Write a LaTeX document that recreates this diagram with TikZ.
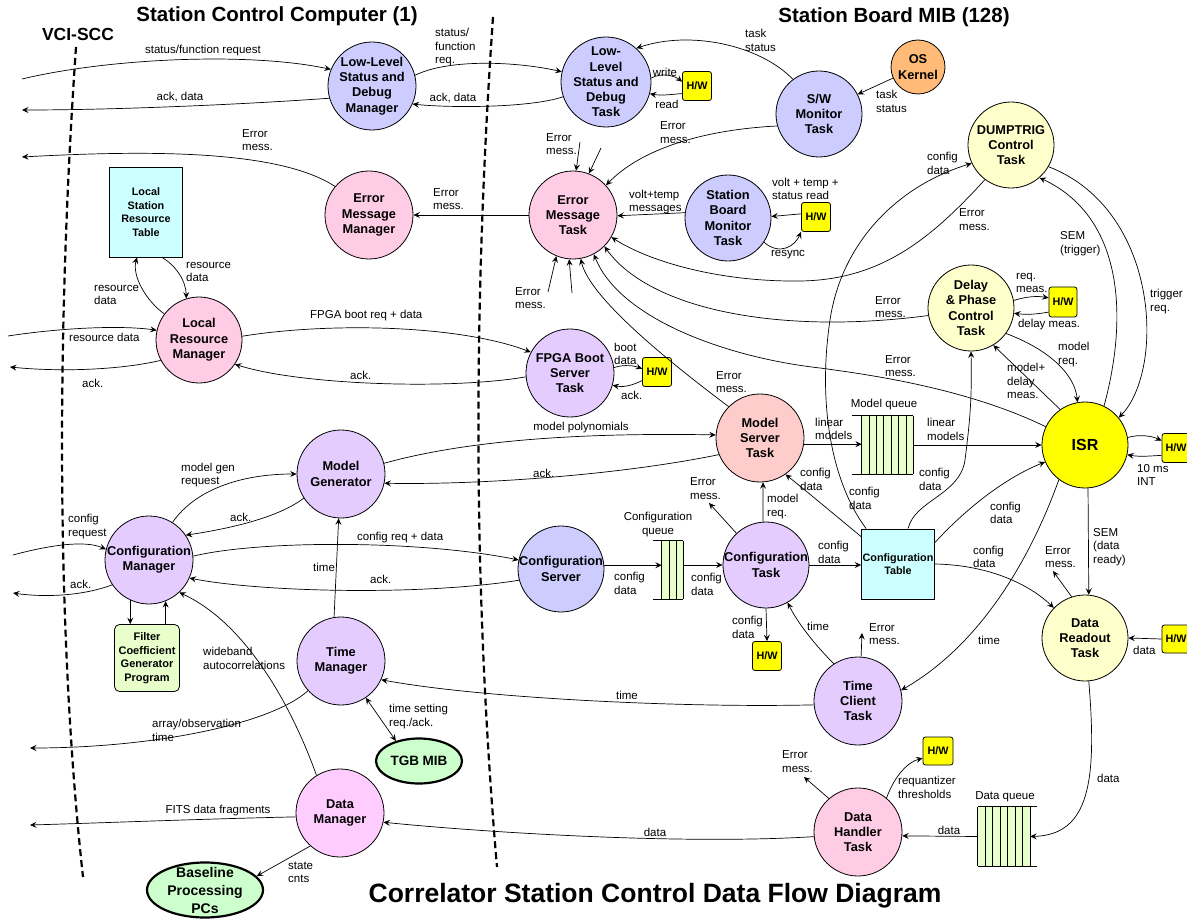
\documentclass[tikz,border=0pt]{standalone}
\usepackage{fontspec}
\setmainfont{Liberation Sans}
\usetikzlibrary{arrows.meta,calc,shapes.geometric}
\definecolor{cblue}{HTML}{CCCCFF}
\definecolor{cpurp}{HTML}{E5CCFF}
\definecolor{cpink}{HTML}{FFCCE5}
\definecolor{csalm}{HTML}{FFCCCC}
\definecolor{cmag}{HTML}{FFCCFF}
\definecolor{cylw}{HTML}{FFFFCC}
\definecolor{cisr}{HTML}{FFFF00}
\definecolor{corg}{HTML}{FFBB77}
\definecolor{ccyan}{HTML}{CCFFFF}
\definecolor{cgrn}{HTML}{E8FFCC}
\definecolor{cell}{HTML}{CCFFCC}
\newcommand\lblfont{\fontsize{11.5}{13.5}\selectfont}
\newcommand\ndfont{\bfseries\fontsize{12.8}{15.3}\selectfont}
\tikzset{
  proc/.style={circle, draw, line width=0.8pt, inner sep=-8pt, align=center, font=\ndfont},
  hwbox/.style={draw, fill=cisr, rounded corners=2.5pt, line width=0.8pt, minimum width=29pt, minimum height=29pt, inner sep=0pt, font=\bfseries\fontsize{10.8}{12}\selectfont},
  tbl/.style={draw, fill=ccyan, line width=0.8pt, inner sep=0pt, align=center, font=\bfseries\fontsize{10.8}{13.7}\selectfont},
  extn/.style={ellipse, draw, line width=2.2pt, fill=cell, inner sep=0pt, align=center},
  lbl/.style={font=\lblfont, align=left, inner sep=0pt, anchor=west},
  clbl/.style={font=\lblfont, align=center, inner sep=0pt},
  arr/.style={line width=0.7pt, -{Stealth[length=6.5pt,width=6pt,inset=2.5pt]}},
  darr/.style={line width=0.7pt, {Stealth[length=6.5pt,width=6pt,inset=2.5pt]}-{Stealth[length=6.5pt,width=6pt,inset=2.5pt]}},
  bnd/.style={line width=2.2pt, dash pattern=on 7pt off 4pt},
  qfill/.style={fill=cgrn, inner sep=0pt},
  qline/.style={line width=0.7pt}
}
\begin{document}
\begin{tikzpicture}[x=1pt,y=-1pt]
\useasboundingbox (0,0) rectangle (1187,920);
\fill[white] (0,0) rectangle (1187,920);

% headings
\node[font=\bfseries\fontsize{20.5}{24}\selectfont] (h1) at (277,16) {Station Control Computer (1)};
\node[font=\bfseries\fontsize{20.5}{24}\selectfont] (h2) at (894,17) {Station Board MIB (128)};
\node[font=\bfseries\fontsize{17.5}{20}\selectfont] (h3) at (78,34) {VCI-SCC};
\node[font=\bfseries\fontsize{26.5}{30}\selectfont] (title) at (655,896) {Correlator Station Control Data Flow Diagram};

% boundaries
\draw[bnd] (76,47) .. controls (55,350) and (58,650) .. (83,877);
\draw[bnd] (493,17) .. controls (472,320) and (474,600) .. (497,867);

% process nodes
\node[proc, fill=cblue, minimum size=88pt] (llsdm) at (372,86) {Low-Level\\Status and\\Debug\\Manager};
\node[proc, fill=cblue, minimum size=90pt] (llsdt) at (606,82) {Low-\\Level\\Status and\\Debug\\Task};
\node[hwbox] (hw1) at (697,86) {H/W};
\node[proc, fill=cblue, minimum size=86pt] (swm) at (819,114) {S/W\\Monitor\\Task};
\node[proc, fill=corg, minimum size=54pt] (os) at (918,67) {OS\\Kernel};
\node[proc, fill=cylw, minimum size=86pt] (dump) at (1011,145) {DUMPTRIG\\Control\\Task};
\node[proc, fill=cpink, minimum size=88pt] (emt) at (573,215) {Error\\Message\\Task};
\node[proc, fill=cpink, minimum size=88pt] (emm) at (369,215) {Error\\Message\\Manager};
\node[proc, fill=cblue, minimum size=86pt] (sbm) at (728,218) {Station\\Board\\Monitor\\Task};
\node[hwbox] (hw2) at (816,217) {H/W};
\node[tbl, minimum width=73pt, minimum height=90pt] (lsrt) at (146,212) {Local\\Station\\Resource\\Table};
\node[proc, fill=cpink, minimum size=86pt] (lrm) at (199,340) {Local\\Resource\\Manager};
\node[proc, fill=cpurp, minimum size=88pt] (fpga) at (570,373) {FPGA Boot\\Server\\Task};
\node[hwbox] (hw3) at (657,372) {H/W};
\node[proc, fill=cylw, minimum size=86pt] (delay) at (971,308) {Delay\\\& Phase\\Control\\Task};
\node[hwbox, minimum width=28pt, minimum height=30pt] (hw4) at (1063,302) {H/W};
\node[proc, fill=cisr, minimum size=86pt, font=\bfseries\fontsize{16}{18}\selectfont] (isr) at (1085,445) {ISR};
\node[hwbox, minimum width=28pt] (hw5) at (1176,448) {H/W};
\node[proc, fill=csalm, minimum size=88pt] (mst) at (760,438) {Model\\Server\\Task};
\node[proc, fill=cblue, minimum size=86pt] (cs) at (561,569) {Configuration\\Server};
\node[proc, fill=cpurp, minimum size=86pt] (ct) at (766,565) {Configuration\\Task};
\node[hwbox] (hw6) at (767,656) {H/W};
\node[tbl, minimum width=73pt, minimum height=70pt] (ctab) at (898,564) {Configuration\\Table};
\node[proc, fill=cylw, minimum size=86pt] (drt) at (1085,638) {Data\\Readout\\Task};
\node[hwbox, minimum width=28pt, minimum height=28pt] (hw7) at (1176,639) {H/W};
\node[proc, fill=cpurp, minimum size=88pt] (tct) at (858,701) {Time\\Client\\Task};
\node[hwbox, minimum width=30pt, minimum height=28pt] (hw8) at (938,751) {H/W};
\node[proc, fill=cpink, minimum size=88pt] (dht) at (858,832) {Data\\Handler\\Task};
\node[proc, fill=cpurp, minimum size=88pt] (mg) at (341,474) {Model\\Generator};
\node[proc, fill=cpurp, minimum size=88pt] (cm) at (149,560) {Configuration\\Manager};
\node[draw, fill=cgrn, rounded corners=5pt, line width=0.8pt, minimum width=65pt, minimum height=67pt, inner sep=0pt, align=center, font=\bfseries\fontsize{11}{13.5}\selectfont] (fcg) at (147,658) {Filter\\Coefficient\\Generator\\Program};
\node[proc, fill=cpurp, minimum size=88pt] (tm) at (341,661) {Time\\Manager};
\node[extn, minimum width=86pt, minimum height=45pt, font=\bfseries\fontsize{13.5}{16}\selectfont] (tgb) at (419,761) {TGB MIB};
\node[proc, fill=cmag, minimum size=88pt] (dm) at (340,813) {Data\\Manager};
\node[extn, minimum width=116pt, minimum height=55pt] (bpp) at (205,890) {};
\node[align=center, inner sep=0pt, font=\bfseries\fontsize{14}{18}\selectfont] (bppt) at (bpp) {Baseline\\Processing\\PCs};

% queues
\node[qfill, minimum width=51pt, minimum height=58pt] (mq) at (887.5,445) {};
\foreach \i in {0,...,7} \draw[qline] ($(mq.north west)!\i/7!(mq.north east)$) -- ($(mq.south west)!\i/7!(mq.south east)$);
\draw[qline] ([xshift=-10pt]mq.north west) -- (mq.north east);
\draw[qline] ([xshift=-10pt]mq.south west) -- (mq.south east);
\node[qfill, minimum width=21pt, minimum height=58pt] (cq) at (672.5,570) {};
\foreach \i in {0,...,3} \draw[qline] ($(cq.north west)!\i/3!(cq.north east)$) -- ($(cq.south west)!\i/3!(cq.south east)$);
\draw[qline] ([xshift=-9pt]cq.north west) -- (cq.north east);
\draw[qline] ([xshift=-9pt]cq.south west) -- (cq.south east);
\node[qfill, minimum width=52pt, minimum height=59pt] (dq) at (1004,836.5) {};
\foreach \i in {0,...,7} \draw[qline] ($(dq.north west)!\i/7!(dq.north east)$) -- ($(dq.south west)!\i/7!(dq.south east)$);
\draw[qline] (dq.north west) -- ([xshift=7pt]dq.north east);
\draw[qline] (dq.south west) -- ([xshift=7pt]dq.south east);

% free ends
\coordinate (x1) at (22,79);
\coordinate (x2) at (22,110);
\coordinate (x3) at (22,157);
\coordinate (x4) at (8,336);
\coordinate (x5) at (10,367);
\coordinate (x6) at (13,555);
\coordinate (x7) at (13,593);
\coordinate (x8) at (30,748);
\coordinate (x9) at (30,825);
\coordinate (e1) at (580,142);
\coordinate (e2) at (601,148);
\coordinate (e3) at (548,292);
\coordinate (e4) at (572,293);
\coordinate (e5) at (709,503);
\coordinate (e6) at (862,633);
\coordinate (e7) at (1053,571);
\coordinate (e8) at (804,777);

% connectors - top
\draw[arr] (x1) .. controls (110,58) and (250,52) .. (llsdm.158);
\draw[arr] (llsdm.196) .. controls (250,104) and (120,110) .. (x2);
\draw[arr] (emm.140) .. controls (280,150) and (150,150) .. (x3);
\draw[arr] (llsdm.14) .. controls (450,58) and (520,62) .. (llsdt.167);
\draw[arr] (llsdt.199) .. controls (530,108) and (450,108) .. (llsdm.336);
\draw[arr] (llsdt.5) .. controls (662,72) and (675,76) .. (hw1.164);
\draw[arr] (hw1.207) .. controls (675,94) and (662,96) .. (llsdt.345);
\draw[arr] (swm.127) .. controls (760,45) and (690,30) .. (llsdt.48);
\draw[arr] (os.204) -- (swm.27);
\draw[arr] (swm.196) .. controls (700,130) and (640,150) .. (emt.42);
\draw[arr] (e1) -- (emt.86);
\draw[arr] (e2) -- (emt.69);
\draw[arr] (emt.west) -- (emm.east);
\draw[arr] (sbm.173) -- (emt.359);
\draw[arr] (hw2.168) -- (sbm.2);
\draw[arr] (sbm.326) .. controls (780,256) and (795,246) .. (hw2.225);
\draw[arr] (e3) -- (emt.248);
\draw[arr] (e4) -- (emt.265);
\draw[arr] (mst.135) .. controls (680,370) and (590,300) .. (emt.280);
\draw[arr] (isr.155) .. controls (970,390) and (880,376) .. (820,368) .. controls (730,358) and (620,320) .. (emt.298);
\draw[arr] (delay.190) .. controls (780,335) and (650,310) .. (emt.315);
\draw[arr] (dump.233) .. controls (930,240) and (880,280) .. (800,281) .. controls (720,282) and (650,262) .. (emt.330);

% local resource
\draw[arr] (lrm.143) .. controls (145,300) and (132,275) .. ([xshift=-9pt]lsrt.south);
\draw[arr] ([xshift=16pt]lsrt.south) .. controls (175,265) and (186,280) .. (lrm.107);
\draw[arr] (x4) .. controls (60,328) and (120,325) .. (lrm.167);
\draw[arr] (lrm.208) .. controls (120,370) and (60,372) .. (x5);
\draw[arr] (lrm.5) .. controls (330,322) and (460,325) .. (fpga.152);
\draw[arr] (fpga.185) .. controls (450,390) and (300,385) .. (lrm.326);
\draw[arr] (fpga.7) .. controls (625,364) and (635,366) .. (hw3.168);
\draw[arr] (hw3.210) .. controls (635,384) and (625,388) .. (fpga.344);

% model generator / server
\draw[arr] (mg.14) .. controls (450,445) and (550,432) .. (mst.176);
\draw[arr] (mst.202) .. controls (620,475) and (480,485) .. (mg.348);
\draw[arr] (cm.58) .. controls (195,490) and (240,474) .. (mg.west);
\draw[arr] (mg.213) .. controls (275,520) and (220,530) .. (cm.34);
\draw[arr] (cm.5) .. controls (260,540) and (420,540) .. (cs.168);
\draw[arr] (cs.195) .. controls (420,596) and (260,592) .. (cm.336);

% configuration chain
\draw[arr] (cs.5) -- (cs.5 -| cq.west);
\draw[arr] (cq.east |- ct.west) -- (ct.west);
\draw[arr] (ct.east) -- (ct.east -| ctab.west);
\draw[arr] (ct.94) -- (mst.274);
\draw[arr] (ct.133) -- (e5);
\draw[arr] (ct.south) -- (hw6.north);
\draw[arr] (tct.123) .. controls (815,645) and (797,622) .. (ct.300);
\draw[arr] (tct.86) -- (e6);
\draw[arr] (isr.233) .. controls (1030,560) and (980,645) .. (tct.14);
\draw[arr] (isr.274) -- (drt.85);
\draw[arr] (drt.108) -- (e7);
\draw[arr] (hw7.west) -- (drt.east);
\draw[arr] (drt.275) .. controls (1097,780) and (1090,835) .. (dq.east);
\draw[arr] (dq.west) -- (dht.355);
\draw[arr] (dht.50) .. controls (895,775) and (908,762) .. (hw8.205);
\draw[arr] (dht.131) -- (e8);
\draw[arr] (dht.186) .. controls (680,845) and (480,832) .. (dm.348);
\draw[arr] (tct.185) .. controls (680,708) and (480,698) .. (tm.335);
\draw[darr] (tm.304) -- (tgb.139);
\draw[arr] (tm.99) -- (mg.267);
\draw[arr] (tm.222) .. controls (270,725) and (150,748) .. (x8);
\draw[arr] (dm.122) .. controls (295,715) and (250,625) .. (cm.313);
\draw[arr] (dm.185) .. controls (200,819) and (100,823) .. (x9);
\draw[arr] (dm.228) -- (bpp.15);
\draw[arr] (cm.245) -- (cm.245 |- fcg.north);
\draw[arr] (fcg.north -| cm.292) -- (cm.292);
\draw[arr] (x6) .. controls (50,545) and (85,540) .. (cm.166);
\draw[arr] (cm.214) .. controls (80,597) and (40,597) .. (x7);

% model queue / ISR / config table
\draw[arr] (mst.352) -- (mst.352 -| mq.west);
\draw[arr] (mq.east) -- (isr.west);
\draw[arr] ([yshift=-8pt]ctab.north west) .. controls (835,515) and (805,490) .. (mst.305);
\draw[arr] ([xshift=5pt]ctab.north west) .. controls (830,480) and (818,400) .. (830,320) .. controls (842,240) and (900,185) .. (dump.205);
\draw[arr] ([xshift=10pt]ctab.north) .. controls (915,500) and (960,495) .. (965,460) .. controls (970,420) and (972,400) .. (delay.south);
\draw[arr] ([yshift=-14pt]ctab.north east) .. controls (960,515) and (1000,480) .. (isr.203);
\draw[arr] (ctab.east) .. controls (990,565) and (1030,585) .. (drt.136);
\draw[arr] (delay.10) .. controls (1028,296) and (1038,296) .. (hw4.164);
\draw[arr] (hw4.215) .. controls (1038,314) and (1028,315) .. (delay.353);
\draw[arr] (delay.324) .. controls (1050,350) and (1075,375) .. (isr.100);
\draw[arr] (isr.125) -- (delay.301);
\draw[arr] (dump.330) .. controls (1160,210) and (1165,370) .. (isr.39);
\draw[arr] (isr.64) .. controls (1130,310) and (1120,215) .. (dump.311);
\draw[arr] (isr.10) .. controls (1140,434) and (1152,436) .. (hw5.153);
\draw[arr] (hw5.207) .. controls (1150,456) and (1140,457) .. (isr.347);

% labels
\node[clbl] (l1) at (203,51) {status/function request};
\node[clbl] (l2) at (180,97) {ack, data};
\node[lbl] (l3) at (242,140) {Error\\mess.};
\node[lbl] (l4) at (435,47.5) {status/\\function\\req.};
\node[clbl] (l5) at (453,98) {ack, data};
\node[clbl] (l6) at (665,72) {write};
\node[clbl] (l7) at (667,104) {read};
\node[lbl] (l8) at (745,40.5) {task\\status};
\node[lbl] (l9) at (876,101.5) {task\\status};
\node[lbl] (l10) at (660,132.5) {Error\\mess.};
\node[lbl] (l11) at (546,144) {Error\\mess.};
\node[lbl] (l12) at (433,199) {Error\\mess.};
\node[lbl] (l13) at (629,202) {volt+temp\\messages};
\node[lbl] (l14) at (772,189) {volt + temp +\\status read};
\node[clbl] (l15) at (788,255) {resync};
\node[lbl] (l16) at (515,298) {Error\\mess.};
\node[lbl] (l17) at (716,382) {Error\\mess.};
\node[lbl] (l18) at (885,366) {Error\\mess.};
\node[lbl] (l19) at (875,307) {Error\\mess.};
\node[lbl] (l20) at (959,219.5) {Error\\mess.};
\node[lbl] (l21) at (927,163.5) {config\\data};
\node[lbl] (l22) at (1060,243.5) {SEM\\(trigger)};
\node[lbl] (l23) at (1150,301.5) {trigger\\req.};
\node[lbl] (l24) at (1016,283) {req.\\meas.};
\node[clbl] (l25) at (1049,325) {delay meas.};
\node[lbl] (l26) at (1058,354.5) {model\\req.};
\node[lbl] (l27) at (1007,381) {model+\\delay\\meas.};
\node[lbl] (l28) at (1137,475) {10 ms\\INT};
\node[lbl] (l29) at (815,429) {linear\\models};
\node[clbl] (l30) at (884,405) {Model queue};
\node[lbl] (l31) at (927,429.5) {linear\\models};
\node[lbl] (l32) at (800,479.5) {config\\data};
\node[lbl] (l33) at (849,498.5) {config\\data};
\node[lbl] (l34) at (919,479.5) {config\\data};
\node[lbl] (l35) at (990,513) {config\\data};
\node[lbl] (l36) at (973,557) {config\\data};
\node[lbl] (l37) at (1093,547) {SEM\\(data\\ready)};
\node[lbl] (l38) at (1045,557) {Error\\mess.};
\node[lbl] (l39) at (1133,650) {data};
\node[lbl] (l40) at (978,640) {time};
\node[lbl] (l41) at (807,626) {time};
\node[lbl] (l42) at (869,634) {Error\\mess.};
\node[lbl] (l43) at (818,552.5) {config\\data};
\node[lbl] (l44) at (767,506.5) {model\\req.};
\node[lbl] (l45) at (690,488.5) {Error\\mess.};
\node[lbl] (l46) at (732,627.5) {config\\data};
\node[clbl] (l47) at (658,524.5) {Configuration\\queue};
\node[lbl] (l48) at (691,584.5) {config\\data};
\node[lbl] (l49) at (614,583.5) {config\\data};
\node[lbl] (l50) at (1097,778) {data};
\node[clbl] (l51) at (1005,797) {Data queue};
\node[clbl] (l52) at (949,830) {data};
\node[lbl] (l53) at (898,787.5) {requantizer\\thresholds};
\node[lbl] (l54) at (782,761.5) {Error\\mess.};
\node[clbl] (l55) at (655,832) {data};
\node[clbl] (l56) at (627,695) {time};
\node[lbl] (l57) at (389,716.5) {time setting\\req./ack.};
\node[lbl] (l58) at (313,567) {time};
\node[lbl] (l59) at (152,730.5) {array/observation\\time};
\node[lbl] (l60) at (203,658.5) {wideband\\autocorrelations};
\node[clbl] (l61) at (218,811) {FITS data fragments};
\node[lbl] (l62) at (288,872.5) {state\\cnts};
\node[lbl] (l63) at (68,526.5) {config\\request};
\node[lbl] (l64) at (70,584) {ack.};
\node[lbl] (l65) at (181,475) {model gen\\request};
\node[lbl] (l66) at (230,517) {ack.};
\node[lbl] (l67) at (357,538) {config req + data};
\node[lbl] (l68) at (370,579) {ack.};
\node[clbl] (l69) at (581,428) {model polynomials};
\node[lbl] (l70) at (533,473) {ack.};
\node[lbl] (l71) at (310,316) {FPGA boot req + data};
\node[lbl] (l72) at (350,375) {ack.};
\node[lbl] (l73) at (614,354) {boot\\data};
\node[lbl] (l74) at (621,395) {ack.};
\node[lbl] (l75) at (69,337) {resource data};
\node[lbl] (l76) at (82,383) {ack.};
\node[lbl] (l77) at (94,295) {resource\\data};
\node[lbl] (l78) at (186,272) {resource\\data};
\end{tikzpicture}
\end{document}
